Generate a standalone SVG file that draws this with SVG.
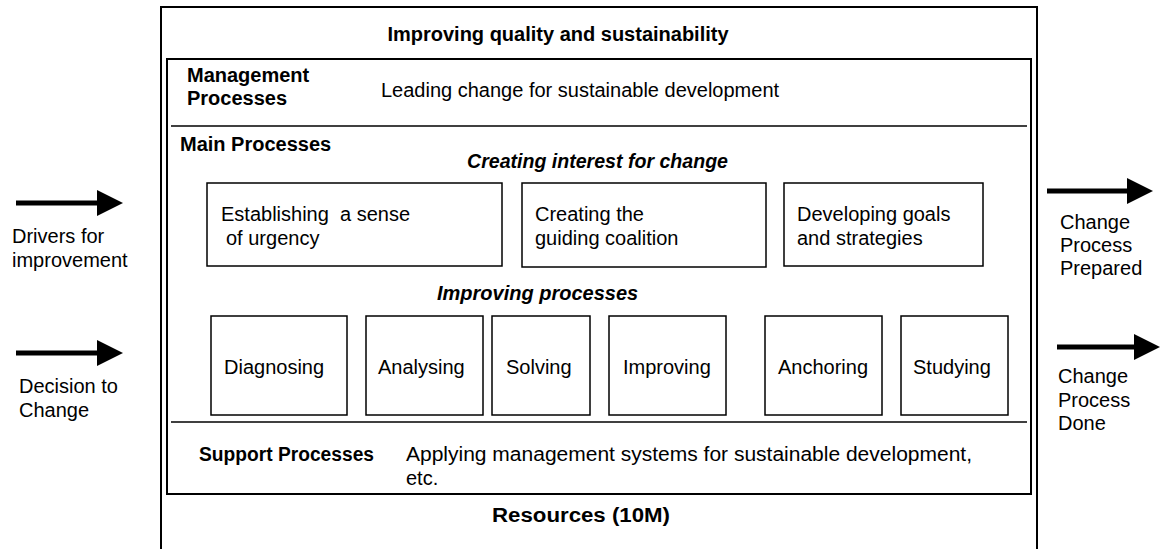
<svg xmlns="http://www.w3.org/2000/svg" width="1161" height="549" viewBox="0 0 1161 549">
<style>
text{font-family:"Liberation Sans",Arial,sans-serif;font-size:20px;fill:#000}
.b{font-weight:bold}
.bi{font-weight:bold;font-style:italic}
.box{fill:#fff;stroke:#000;stroke-width:1.5}
.frame{fill:none;stroke:#000;stroke-width:2}
.div{stroke:#000;stroke-width:1.5}
.arr{stroke:#000;stroke-width:5;fill:none;marker-end:url(#ah)}
</style>
<defs>
<marker id="ah" markerUnits="userSpaceOnUse" markerWidth="26" markerHeight="26" refX="2" refY="13" orient="auto">
<path d="M0,0 L26,13 L0,26 z" fill="#000"/>
</marker>
</defs>
<rect width="1161" height="549" fill="#fff"/>
<g id="outer-frame">
<path class="frame" d="M161,560 L161,7 L1037,7 L1037,560"/>
<text class="b" x="558" y="41" text-anchor="middle">Improving quality and sustainability</text>
<text class="b" x="492" y="522" textLength="178" lengthAdjust="spacingAndGlyphs">Resources (10M)</text>
</g>
<g id="inner-frame">
<rect class="frame" x="167" y="59" width="864" height="435"/>
<line class="div" x1="171" y1="126" x2="1027" y2="126"/>
<line class="div" x1="171" y1="422" x2="1027" y2="422"/>
</g>
<g id="management">
<text class="b" x="187" y="82">Management</text>
<text class="b" x="187" y="105">Processes</text>
<text x="381" y="97">Leading change for sustainable development</text>
</g>
<g id="main">
<text class="b" x="180" y="151">Main Processes</text>
<text class="bi" x="467" y="168" textLength="261" lengthAdjust="spacingAndGlyphs">Creating interest for change</text>
<text class="bi" x="437" y="300">Improving processes</text>
</g>
<g id="n-urgency">
<rect class="box" x="207" y="183" width="295" height="83"/>
<text x="221" y="221" xml:space="preserve">Establishing  a sense</text>
<text x="226" y="245">of urgency</text>
</g>
<g id="n-coalition">
<rect class="box" x="522" y="183" width="244" height="84"/>
<text x="535" y="221">Creating the</text>
<text x="535" y="245">guiding coalition</text>
</g>
<g id="n-goals">
<rect class="box" x="784" y="183" width="199" height="83"/>
<text x="797" y="221">Developing goals</text>
<text x="797" y="245">and strategies</text>
</g>
<g id="n-diagnosing">
<rect class="box" x="211" y="316" width="136" height="99"/>
<text x="224" y="374">Diagnosing</text>
</g>
<g id="n-analysing">
<rect class="box" x="366" y="316" width="117" height="99"/>
<text x="378" y="374">Analysing</text>
</g>
<g id="n-solving">
<rect class="box" x="492" y="316" width="98" height="99"/>
<text x="506" y="374">Solving</text>
</g>
<g id="n-improving">
<rect class="box" x="609" y="316" width="117" height="99"/>
<text x="623" y="374">Improving</text>
</g>
<g id="n-anchoring">
<rect class="box" x="765" y="316" width="117" height="99"/>
<text x="778" y="374">Anchoring</text>
</g>
<g id="n-studying">
<rect class="box" x="901" y="316" width="107" height="99"/>
<text x="913" y="374">Studying</text>
</g>
<g id="support">
<text class="b" x="199" y="461" textLength="175" lengthAdjust="spacingAndGlyphs">Support Processes</text>
<text x="406" y="461" textLength="566" lengthAdjust="spacingAndGlyphs">Applying management systems for sustainable development,</text>
<text x="406" y="485">etc.</text>
</g>
<g id="connectors">
<line class="arr" x1="16" y1="203" x2="99" y2="203"/>
<line class="arr" x1="16" y1="353" x2="99" y2="353"/>
<line class="arr" x1="1047" y1="191" x2="1129" y2="191"/>
<line class="arr" x1="1057" y1="347" x2="1136" y2="347"/>
</g>
<g id="labels">
<text x="12" y="243">Drivers for</text>
<text x="12" y="267">improvement</text>
<text x="19" y="393">Decision to</text>
<text x="19" y="417">Change</text>
<text x="1060" y="229">Change</text>
<text x="1060" y="252">Process</text>
<text x="1060" y="275">Prepared</text>
<text x="1058" y="383">Change</text>
<text x="1058" y="407">Process</text>
<text x="1058" y="430">Done</text>
</g>
</svg>
